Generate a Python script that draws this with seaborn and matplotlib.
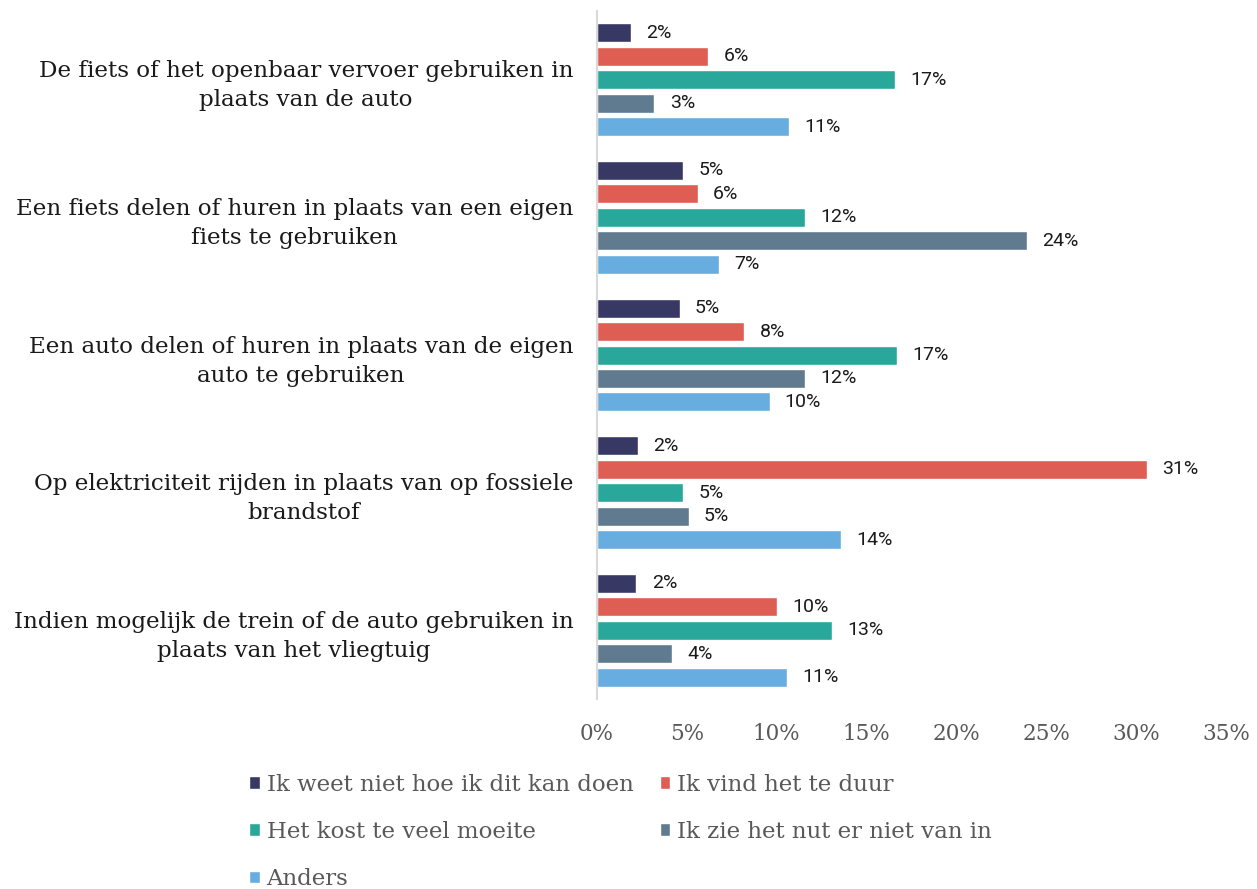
import matplotlib
matplotlib.use('Agg')
from matplotlib import pyplot as plt
import seaborn as sns
import pandas

categories = [
    'De fiets of het openbaar vervoer gebruiken in\nplaats van de auto',
    'Een fiets delen of huren in plaats van een eigen\nfiets te gebruiken',
    'Een auto delen of huren in plaats van de eigen\nauto te gebruiken',
    'Op elektriciteit rijden in plaats van op fossiele\nbrandstof',
    'Indien mogelijk de trein of de auto gebruiken in\nplaats van het vliegtuig',
]
series = ['Ik weet niet hoe ik dit kan doen', 'Ik vind het te duur',
          'Het kost te veel moeite', 'Ik zie het nut er niet van in', 'Anders']
weet_niet = [1.9, 4.8, 4.6, 2.3, 2.2]
te_duur = [6.2, 5.6, 8.2, 30.6, 10.0]
moeite = [16.6, 11.6, 16.7, 4.8, 13.1]
geen_nut = [3.2, 23.9, 11.6, 5.1, 4.2]
anders = [10.7, 6.8, 9.6, 13.6, 10.6]
colors = ['#373964', '#DE5E53', '#2AA79B', '#607B8F', '#68ADDF']
ticks = [0, 5, 10, 15, 20, 25, 30, 35]

rows = []
for name, vals in zip(series, [weet_niet, te_duur, moeite, geen_nut, anders]):
    for cat, v in zip(categories, vals):
        rows.append({'categorie': cat, 'reden': name, 'pct': v})
df = pandas.DataFrame(rows)

sns.set_style('white')
fig = plt.figure(figsize=(12.57, 8.89), dpi=100)
ax = fig.add_axes([0.4749, 0.2137, 0.5005, 0.7739])
sns.barplot(data=df, y='categorie', x='pct', hue='reden', hue_order=series,
            palette=colors, orient='h', width=0.853, gap=0.19, ax=ax,
            errorbar=None, saturation=1)

for cont in ax.containers:
    ax.bar_label(cont, fmt='%.0f%%', padding=11, fontsize=14,
                 family='Roboto', color='#1a1a1a')

ax.set_xlim(0, 35)
ax.set_ylim(4.5, -0.5)
ax.set_xticks(ticks)
ax.set_xticklabels([f'{t}%' for t in ticks], family='DejaVu Serif',
                   fontsize=15.5, color='#595959')
ax.tick_params(axis='x', length=0, pad=17)
ax.tick_params(axis='y', length=0, pad=17)
for lab in ax.get_yticklabels():
    lab.set_family('DejaVu Serif')
    lab.set_fontsize(16.6)
    lab.set_color('#1a1a1a')
    lab.set_multialignment('center')
    lab.set_linespacing(1.42)
ax.set_xlabel('')
ax.set_ylabel('')
for s in ['top', 'right', 'bottom']:
    ax.spines[s].set_visible(False)
ax.spines['left'].set_color('#d9d9d9')
ax.spines['left'].set_linewidth(1.5)

# legend reads row by row (Excel style), matplotlib fills columns first
handles, labels = ax.get_legend_handles_labels()
order = [0, 2, 4, 1, 3]
ax.legend_.remove()
leg = fig.legend([handles[i] for i in order], [labels[i] for i in order],
                 ncol=2, loc='upper left',
                 bbox_to_anchor=(0.182, 0.153), frameon=False,
                 prop={'family': 'DejaVu Serif', 'size': 16.5},
                 handlelength=0.45, handleheight=0.45, handletextpad=0.3,
                 columnspacing=1.15, labelspacing=1.1, labelcolor='#595959')

fig.savefig('out.png', dpi=100)
